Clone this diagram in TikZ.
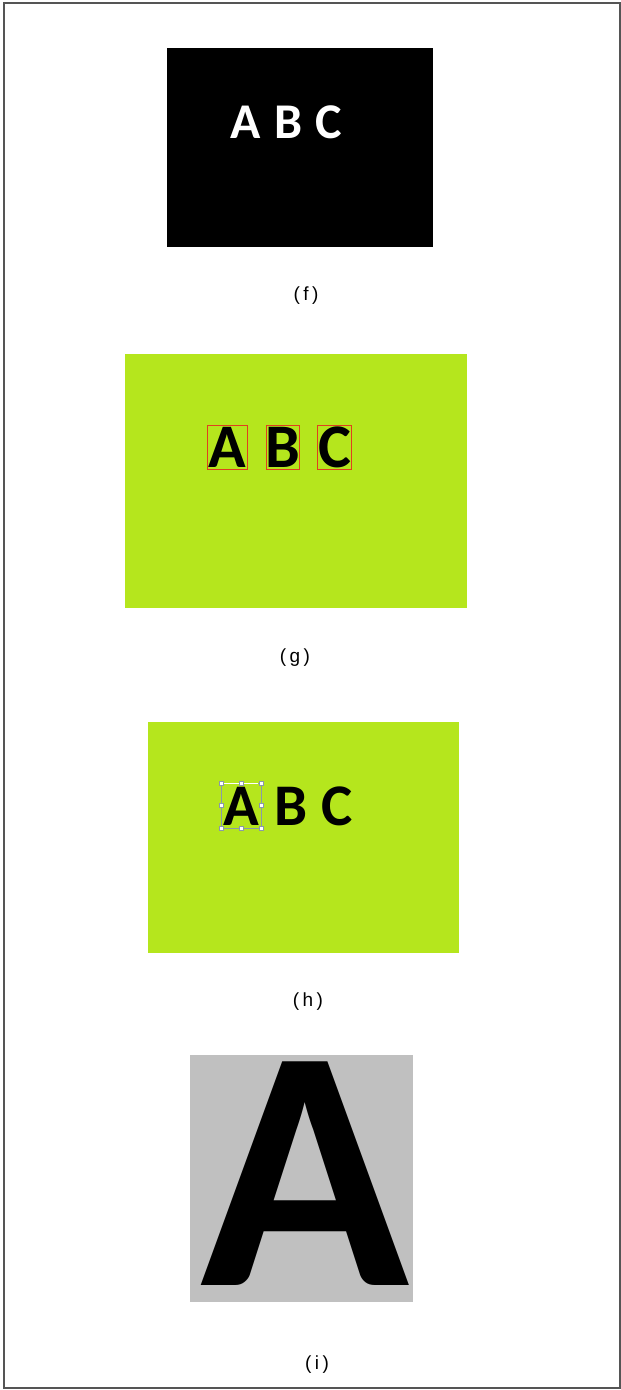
\documentclass[tikz,border=0pt]{standalone}
\usepackage{fontspec}
\setmainfont{Liberation Sans}
\newfontfamily\letterfont{Carlito}
\newfontfamily\labelfont{Liberation Sans}[LetterSpace=18]
\definecolor{lime}{HTML}{B5E61D}
\definecolor{panelgray}{HTML}{C0C0C0}
\definecolor{framegray}{HTML}{555555}
\definecolor{boxred}{HTML}{E0401E}
\definecolor{selgray}{HTML}{8A9AA8}
\tikzset{
  caption/.style={font=\labelfont\fontsize{19}{19}\selectfont, inner sep=0pt, anchor=center},
  letter/.style={font=\letterfont\bfseries\fontsize{#1}{#1}\selectfont, inner sep=0pt, anchor=base},
  redbox/.style={draw=boxred, line width=1pt},
  handle/.style={draw=selgray, fill=white, line width=0.6pt, minimum size=4pt, inner sep=0pt, rectangle}
}
\begin{document}
\begin{tikzpicture}[x=1pt,y=-1pt]
\useasboundingbox (0,0) rectangle (621,1390);
\fill[white] (0,0) rectangle (621,1390);
\draw[framegray, line width=2pt] (4,3) rectangle (619.5,1388);

% (f)
\fill[black] (167,48) rectangle (433,247);
\node[letter=50, text=white] (fA) at (245.5,138) {A};
\node[letter=50, text=white] (fB) at (289,138) {B};
\node[letter=50, text=white] (fC) at (329,138) {C};
\node[caption] (capf) at (306,296) {(f)};

% (g)
\fill[lime] (125,354) rectangle (467,608);
\node[letter=62] (gA) at (227,467) {A};
\node[letter=62] (gB) at (283,467) {B};
\node[letter=62] (gC) at (334.5,467) {C};
\draw[redbox] (207,425) rectangle (247,469);
\draw[redbox] (266,425) rectangle (299,469);
\draw[redbox] (317,425) rectangle (351,469);
\node[caption] (capg) at (295,658) {(g)};

% (h)
\fill[lime] (148,722) rectangle (459,953);
\node[letter=59] (hA) at (241,825) {A};
\node[letter=59] (hB) at (291,825) {B};
\node[letter=59] (hC) at (337.5,825) {C};
\draw[selgray, line width=0.7pt] (221,783) rectangle (261,828);
\draw[white, line width=0.8pt] (224,783.2) -- (258,783.2);
\foreach \hx/\hy [count=\i] in {221/783,241/783,261/783,221/805.5,261/805.5,221/828,241/828,261/828}
  \node[handle] (hh\i) at (\hx,\hy) {};
\node[caption] (caph) at (308,1002) {(h)};

% (i)
\fill[panelgray] (190,1055) rectangle (413,1302);
\node[letter=345] (iA) at (305,1285) {A};
\node[caption] (capi) at (317,1365) {(i)};
\end{tikzpicture}
\end{document}
